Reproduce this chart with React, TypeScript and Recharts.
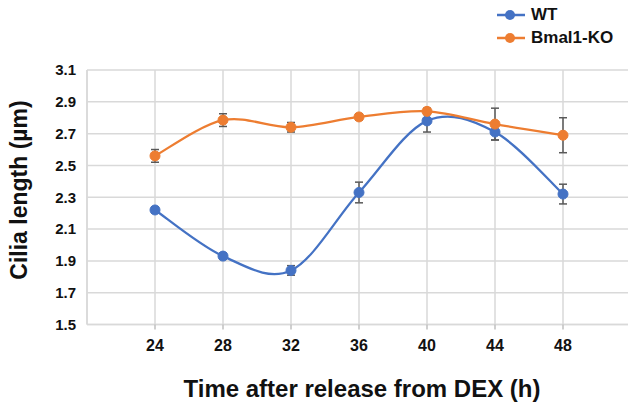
import React from 'react';
import { LineChart, Line, XAxis, YAxis, CartesianGrid, ErrorBar, Legend } from 'recharts';

const hours = [24, 28, 32, 36, 40, 44, 48];
const wtMean = [2.22, 1.93, 1.84, 2.33, 2.78, 2.71, 2.32];
const wtErr = [0.02, 0.02, 0.03, 0.065, 0.07, 0.05, 0.062];
const koMean = [2.56, 2.785, 2.74, 2.805, 2.84, 2.76, 2.69];
const koErr = [0.04, 0.04, 0.03, 0.02, 0.02, 0.1, 0.11];
const seriesNames = ['WT', 'Bmal1-KO'];
const xTicks = [24, 28, 32, 36, 40, 44, 48];
const yTicks = [1.5, 1.7, 1.9, 2.1, 2.3, 2.5, 2.7, 2.9, 3.1];

const data = hours.map((h, i) => ({
  hour: h,
  wt: wtMean[i],
  wtErr: wtErr[i],
  ko: koMean[i],
  koErr: koErr[i],
}));

const FONT = '"Liberation Sans", Arial, sans-serif';
const BLUE = '#4472C4';
const ORANGE = '#ED7D31';
const GRID = '#d9d9d9';

// Excel style smoothing (Catmull-Rom as cubic bezier)
const excelSmooth = (context: any) => {
  let pts: number[][] = [];
  return {
    areaStart() {},
    areaEnd() {},
    lineStart() {
      pts = [];
    },
    point(x: number, y: number) {
      pts.push([+x, +y]);
    },
    lineEnd() {
      const n = pts.length;
      if (!n) return;
      context.moveTo(pts[0][0], pts[0][1]);
      for (let i = 0; i < n - 1; i++) {
        const p0 = pts[i > 0 ? i - 1 : i];
        const p1 = pts[i];
        const p2 = pts[i + 1];
        const p3 = pts[i + 2 < n ? i + 2 : i + 1];
        context.bezierCurveTo(
          p1[0] + (p2[0] - p0[0]) / 6,
          p1[1] + (p2[1] - p0[1]) / 6,
          p2[0] - (p3[0] - p1[0]) / 6,
          p2[1] - (p3[1] - p1[1]) / 6,
          p2[0],
          p2[1]
        );
      }
    },
  };
};

const renderLegend = (props: any) => {
  const items = [...(props.payload || [])].sort(
    (a: any, b: any) => seriesNames.indexOf(a.value) - seriesNames.indexOf(b.value)
  );
  return (
    <div style={{ fontFamily: FONT, fontWeight: 'bold', fontSize: 17, color: '#111' }}>
      {items.map((entry: any) => (
        <div key={entry.value} style={{ display: 'flex', alignItems: 'center', height: 23 }}>
          <svg width={30} height={12}>
            <line x1={0} y1={6} x2={28} y2={6} stroke={entry.color} strokeWidth={2.5} />
            <circle cx={13} cy={6} r={5} fill={entry.color} />
          </svg>
          <span style={{ marginLeft: 4 }}>{entry.value}</span>
        </div>
      ))}
    </div>
  );
};

const App: React.FC = () => {
  return (
    <div style={{ position: 'absolute', left: 0, top: 0, width: 628, height: 407, overflow: 'hidden', background: '#fff' }}>
      <LineChart width={640} height={407} data={data} margin={{ top: 70, right: 9, left: 0, bottom: 42.5 }}>
        <CartesianGrid stroke={GRID} strokeWidth={1.5} />
        <XAxis
          dataKey="hour"
          type="number"
          domain={[20, 52]}
          ticks={xTicks}
          height={40}
          tickSize={5}
          tickMargin={10}
          axisLine={{ stroke: GRID, strokeWidth: 1.5 }}
          tickLine={{ stroke: '#bfbfbf', strokeWidth: 1.5 }}
          tick={{ fontFamily: FONT, fontWeight: 'bold', fontSize: 16, fill: '#111' }}
        />
        <YAxis
          type="number"
          domain={[1.5, 3.1]}
          ticks={yTicks}
          width={87}
          tickSize={0}
          tickMargin={11}
          tickFormatter={(v: number) => v.toFixed(1)}
          axisLine={{ stroke: GRID, strokeWidth: 1.5 }}
          tickLine={false}
          tick={{ fontFamily: FONT, fontWeight: 'bold', fontSize: 15, fill: '#111' }}
        />
        <Legend
          layout="horizontal"
          verticalAlign="middle"
          align="center"
          content={renderLegend}
          wrapperStyle={{ left: 497, top: 3.5, width: 130, height: 46 }}
        />
        <Line
          dataKey="wt"
          name={seriesNames[0]}
          type={excelSmooth as any}
          stroke={BLUE}
          strokeWidth={2.25}
          dot={{ r: 5, fill: BLUE, stroke: BLUE, strokeWidth: 1 }}
          activeDot={false}
          isAnimationActive={false}
        >
          <ErrorBar dataKey="wtErr" direction="y" width={4} stroke="#595959" strokeWidth={1.5} isAnimationActive={false} />
        </Line>
        <Line
          dataKey="ko"
          name={seriesNames[1]}
          type={excelSmooth as any}
          stroke={ORANGE}
          strokeWidth={2.25}
          dot={{ r: 5, fill: ORANGE, stroke: ORANGE, strokeWidth: 1 }}
          activeDot={false}
          isAnimationActive={false}
        >
          <ErrorBar dataKey="koErr" direction="y" width={4} stroke="#595959" strokeWidth={1.5} isAnimationActive={false} />
        </Line>
      </LineChart>
      <div
        style={{
          position: 'absolute',
          left: 162,
          top: 376.7,
          width: 400,
          textAlign: 'center',
          fontFamily: FONT,
          fontWeight: 'bold',
          fontSize: 24,
          lineHeight: '24px',
          color: '#111',
          whiteSpace: 'nowrap',
        }}
      >
        Time after release from DEX (h)
      </div>
      <div
        style={{
          position: 'absolute',
          left: 19 - 130,
          top: 190 - 12,
          width: 260,
          height: 24,
          textAlign: 'center',
          fontFamily: FONT,
          fontWeight: 'bold',
          fontSize: 23,
          lineHeight: '24px',
          color: '#111',
          whiteSpace: 'nowrap',
          transform: 'rotate(-90deg)',
        }}
      >
        Cilia length (µm)
      </div>
    </div>
  );
};

export default App;
